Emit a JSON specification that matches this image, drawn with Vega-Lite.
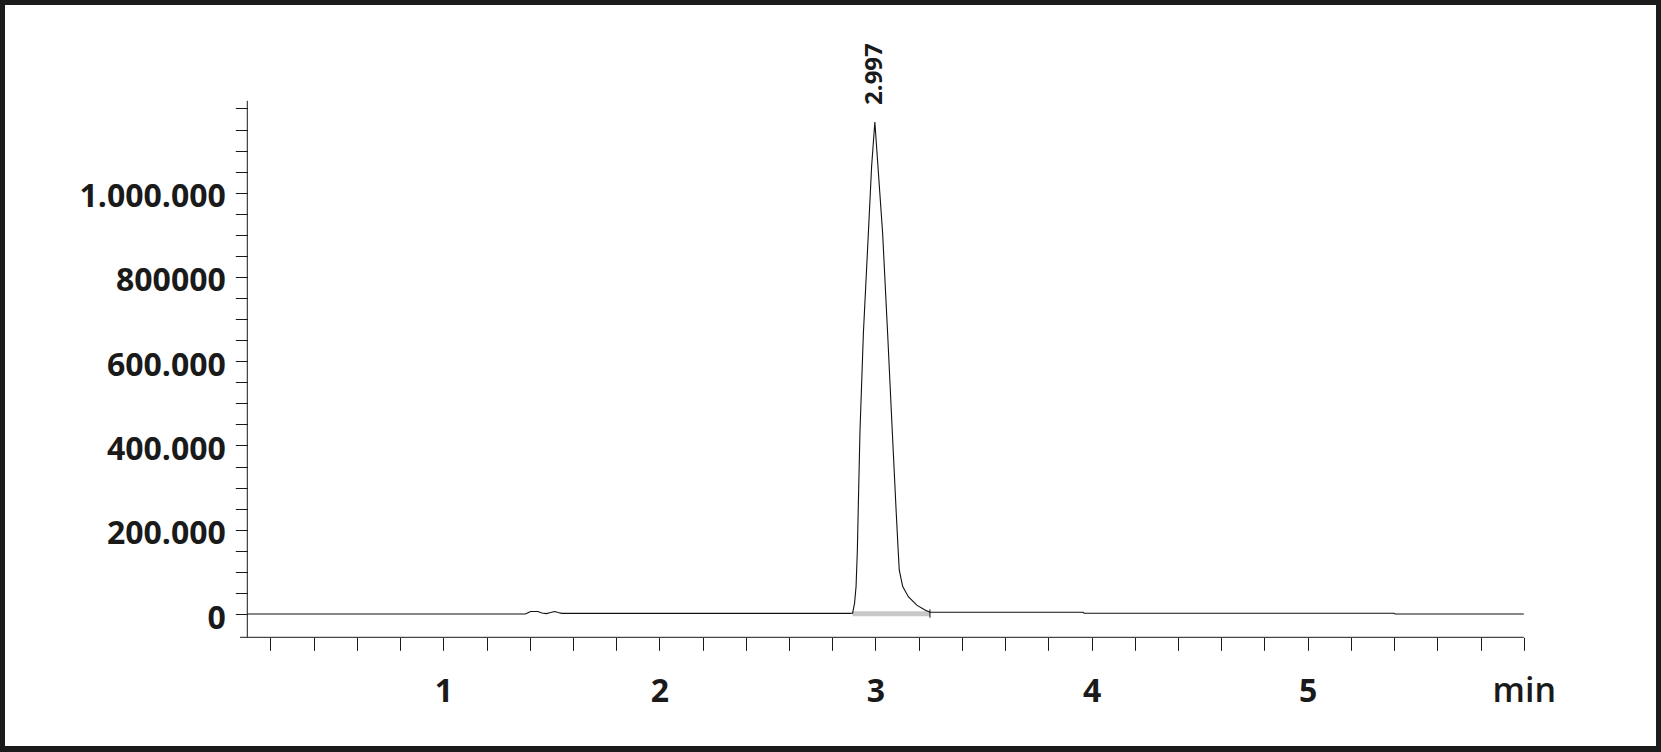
{
  "$schema": "https://vega.github.io/schema/vega-lite/v6.json",
  "width": 1651,
  "height": 741,
  "autosize": {"type": "none"},
  "padding": {"left": 5, "top": 5, "right": 5, "bottom": 6},
  "background": "#1b1b1b",
  "config": {
    "view": {"stroke": null, "fill": "#ffffff"},
    "font": "Open Sans"
  },
  "datasets": {
    "trace": [
      {"t": 0.093, "v": 0},
      {"t": 1.38, "v": 0},
      {"t": 1.392, "v": 3000},
      {"t": 1.404, "v": 6000},
      {"t": 1.437, "v": 6000},
      {"t": 1.456, "v": 2500},
      {"t": 1.477, "v": 1000},
      {"t": 1.497, "v": 3500},
      {"t": 1.515, "v": 6000},
      {"t": 1.532, "v": 3500},
      {"t": 1.548, "v": 1500},
      {"t": 2.88, "v": 1500},
      {"t": 2.894, "v": 2000},
      {"t": 2.903, "v": 25000},
      {"t": 2.91, "v": 65000},
      {"t": 2.916, "v": 150000},
      {"t": 2.921, "v": 270000},
      {"t": 2.928, "v": 430000},
      {"t": 2.944, "v": 667000},
      {"t": 2.967, "v": 904000},
      {"t": 2.982, "v": 1062000},
      {"t": 2.997, "v": 1168000},
      {"t": 3.033, "v": 904000},
      {"t": 3.056, "v": 667000},
      {"t": 3.078, "v": 430000},
      {"t": 3.095, "v": 250000},
      {"t": 3.104, "v": 160000},
      {"t": 3.11, "v": 104000},
      {"t": 3.126, "v": 65000},
      {"t": 3.152, "v": 41000},
      {"t": 3.191, "v": 21000},
      {"t": 3.229, "v": 9500},
      {"t": 3.252, "v": 4000},
      {"t": 3.96, "v": 4000},
      {"t": 3.965, "v": 1700},
      {"t": 5.4, "v": 1700},
      {"t": 5.405, "v": 0},
      {"t": 6.0, "v": 0}
    ],
    "band": [{"t": 2.894, "t2": 3.252, "v": 300}],
    "marker": [{"t": 3.252, "v": -8800, "v2": 11000}],
    "axislines": [
      {"t": 0.093, "t2": 0.093, "v": -55300, "v2": 1218000},
      {"t": 0.0592, "t2": 6.0, "v": -55300, "v2": -55300}
    ],
    "peak": [{"t": 2.997, "v": 1168000, "label": "2.997"}]
  },
  "encoding": {
    "x": {
      "field": "t",
      "type": "quantitative",
      "scale": {"domain": [-1.02823, 6.61176], "nice": false, "zero": false},
      "axis": {
        "title": null,
        "domain": false,
        "grid": false,
        "offset": -108.7,
        "values": [0.2, 0.4, 0.6, 0.8, 1, 1.2, 1.4, 1.6, 1.8, 2, 2.2, 2.4, 2.6, 2.8, 3, 3.2, 3.4, 3.6, 3.8, 4, 4.2, 4.4, 4.6, 4.8, 5, 5.2, 5.4, 5.6, 5.8, 6],
        "tickSize": 13,
        "tickColor": "#1a1a1a",
        "tickWidth": 1,
        "labelExpr": "abs(datum.value - 6) < 0.001 ? 'min' : (abs(datum.value - round(datum.value)) < 0.001 ? format(datum.value, 'd') : '')",
        "labelFont": "Open Sans",
        "labelFontSize": {"condition": {"test": "abs(datum.value - 6) < 0.001", "value": 34}, "value": 32},
        "labelFontWeight": {"condition": {"test": "abs(datum.value - 6) < 0.001", "value": 600}, "value": "bold"},
        "labelColor": "#1a1a1a",
        "labelBaseline": "alphabetic",
        "labelAlign": "center",
        "labelPadding": 50.7,
        "labelFlush": false,
        "labelOverlap": false,
        "labelBound": false,
        "encode": {
          "ticks": {
            "y2": {"condition": {"test": "abs(datum.value - round(datum.value)) < 0.001", "value": 13}, "value": 8}
          }
        }
      }
    },
    "y": {
      "field": "v",
      "type": "quantitative",
      "scale": {"domain": [-313316, 1445526], "nice": false, "zero": false},
      "axis": {
        "title": null,
        "domain": false,
        "grid": false,
        "offset": -242.3,
        "values": [0, 50000, 100000, 150000, 200000, 250000, 300000, 350000, 400000, 450000, 500000, 550000, 600000, 650000, 700000, 750000, 800000, 850000, 900000, 950000, 1000000, 1050000, 1100000, 1150000, 1200000],
        "tickSize": 12,
        "tickColor": "#1a1a1a",
        "tickWidth": 1,
        "labelExpr": "datum.value == 0 ? '0' : datum.value == 200000 ? '200.000' : datum.value == 400000 ? '400.000' : datum.value == 600000 ? '600.000' : datum.value == 800000 ? '800000' : datum.value == 1000000 ? '1.000.000' : ''",
        "labelFont": "Open Sans",
        "labelFontSize": 32,
        "labelFontWeight": "bold",
        "labelColor": "#1a1a1a",
        "labelPadding": 10,
        "labelOffset": 4,
        "labelOverlap": false,
        "labelBound": false,
        "labelFlush": false,
        "encode": {
          "ticks": {
            "x2": {"condition": {"test": "datum.value % 200000 === 0", "value": -12}, "value": -7}
          }
        }
      }
    }
  },
  "layer": [
    {
      "data": {"name": "band"},
      "mark": {"type": "rule", "color": "#c8c8c8", "strokeWidth": 5},
      "encoding": {
        "x2": {"field": "t2"}
      }
    },
    {
      "data": {"name": "trace"},
      "mark": {"type": "line", "color": "#111111", "strokeWidth": 1.1}
    },
    {
      "data": {"name": "marker"},
      "mark": {"type": "rule", "color": "#111111", "strokeWidth": 1},
      "encoding": {
        "y2": {"field": "v2"}
      }
    },
    {
      "data": {"name": "axislines"},
      "mark": {"type": "rule", "color": "#1a1a1a", "strokeWidth": 1},
      "encoding": {
        "x2": {"field": "t2"},
        "y2": {"field": "v2"}
      }
    },
    {
      "data": {"name": "peak"},
      "mark": {"type": "text", "angle": 270, "align": "left", "baseline": "middle", "dx": 17, "font": "Open Sans", "fontSize": 24, "fontWeight": "bold", "color": "#1a1a1a"},
      "encoding": {
        "text": {"field": "label"}
      }
    }
  ]
}
